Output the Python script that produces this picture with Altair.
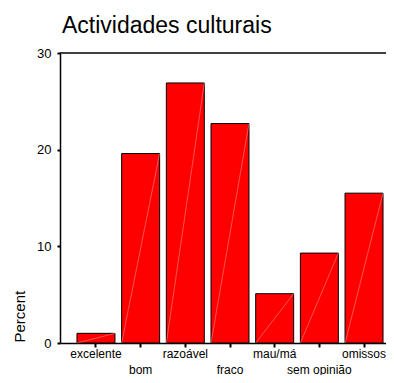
import altair as alt
import pandas as pd

title_text = ["Actividades culturais"]
categories = ["excelente", "bom", "razoável", "fraco", "mau/má", "sem opinião", "omissos"]
values = [1.0, 19.6, 26.9, 22.7, 5.1, 9.3, 15.5]
y_ticks = [0, 10, 20, 30]

df = pd.DataFrame({"cat": categories, "pct": values})
df_title = pd.DataFrame({"t": title_text})

FONT = "Liberation Sans"
W, H = 326, 290

xscale = alt.Scale(domain=categories, range=[0, 340], paddingInner=0.15, paddingOuter=0.38)
yscale = alt.Scale(domain=[0, 30], nice=False)

second_row = "indexof(['bom','fraco','sem opinião'], datum.value) >= 0"

bars = alt.Chart(df).mark_bar(color="#ff0000", stroke="#000000", strokeWidth=1).encode(
    x=alt.X("cat:N", scale=xscale, sort=categories, title=None,
            axis=alt.Axis(labelAngle=0, labelOverlap=False, labelFont=FONT, labelFontSize=12,
                          labelColor="#000", labelBaseline="alphabetic",
                          labelPadding={"condition": {"test": second_row, "value": 26}, "value": 10},
                          tickSize=4, tickWidth=2, tickColor="#000",
                          domainColor="#000", domainWidth=1.5)),
    y=alt.Y("pct:Q", scale=yscale, title="Percent",
            axis=alt.Axis(values=y_ticks, grid=False, labelFont=FONT, labelFontSize=13,
                          labelColor="#000", labelPadding=6, tickSize=3, tickWidth=2,
                          tickColor="#000", domainColor="#000", domainWidth=1.5,
                          titleFont=FONT, titleFontSize=15, titleFontWeight="normal",
                          titleColor="#000", titleAngle=270, titleAlign="left",
                          titleBaseline="middle", titleX=-41, titleY=289)),
)

diag = alt.Chart(df).mark_rule(color="#ffc8c8", strokeWidth=0.6, opacity=0.7).encode(
    x=alt.X("cat:N", scale=xscale, sort=categories, bandPosition=1),
    y=alt.Y("pct:Q", scale=yscale),
    x2=alt.X2("cat", bandPosition=0),
    y2=alt.datum(0),
)

top_line = alt.Chart(df_title).mark_rule(color="#000", strokeWidth=1.5).encode(
    x=alt.value(0), x2=alt.value(W), y=alt.value(0)
)

title = alt.Chart(df_title).mark_text(
    font=FONT, fontSize=23, color="#000", fontWeight="normal",
    align="left", baseline="alphabetic",
).encode(text="t:N", x=alt.value(2), y=alt.value(-20))

chart = alt.layer(bars, diag, top_line, title).properties(
    width=W, height=H,
    autosize=alt.AutoSizeParams(type="none"),
    padding={"left": 52, "top": 45, "right": 0, "bottom": 32},
).configure_view(stroke=None)

chart.save("out.html", embed_options={"renderer": "svg", "actions": False})
